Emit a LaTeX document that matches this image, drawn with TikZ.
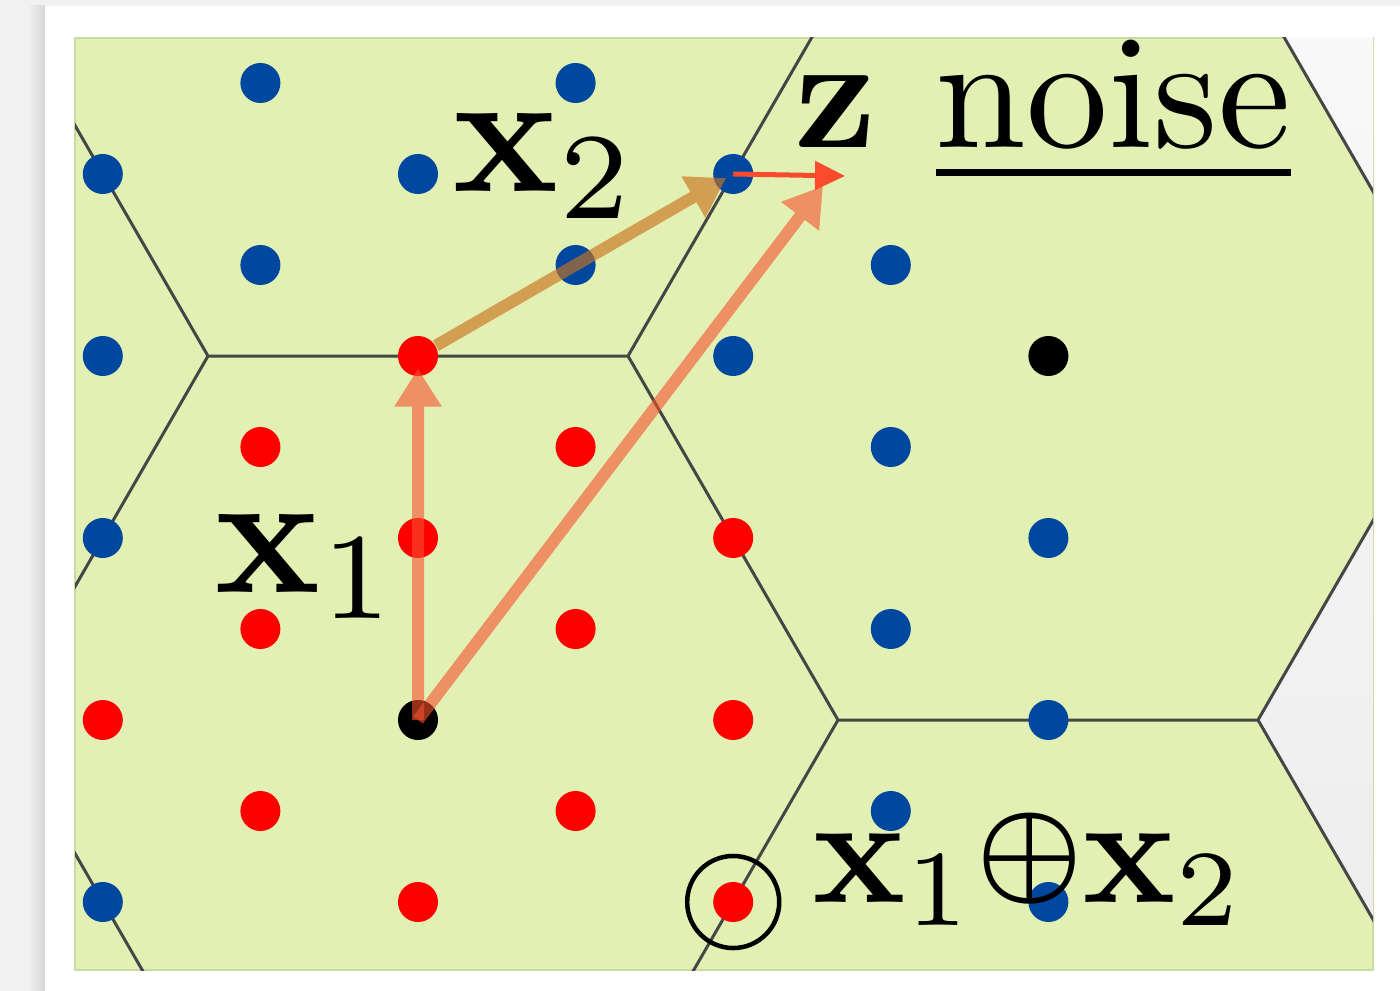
\documentclass[tikz,border=0pt]{standalone}
\usepackage{amsmath,amssymb}
\usepackage{graphicx}
\usetikzlibrary{arrows.meta}

\definecolor{leaf}{RGB}{226,240,180}
\definecolor{leafedge}{RGB}{200,218,160}
\definecolor{dotblue}{RGB}{0,71,160}
\definecolor{dotred}{RGB}{255,0,0}
\definecolor{salmon}{RGB}{245,80,45}
\definecolor{arrtan}{RGB}{200,115,30}
\definecolor{zred}{RGB}{250,75,45}
\definecolor{hexline}{RGB}{70,70,70}

\begin{document}
\begin{tikzpicture}[
    x=0.01cm, y=-0.01cm,
    dot/.style={circle, inner sep=0pt, minimum size=0.4cm},
    hexedge/.style={hexline, line width=0.03cm, line join=round},
    arr/.style={-{Triangle[length=0.38cm, width=0.45cm]}, line width=0.12cm},
    lbl/.style={inner sep=0pt, anchor=base west}
]
    % --- slide background ---
    \fill[gray!11] (0,0) rectangle (1400,991);
    \shade[left color=gray!11, right color=gray!32] (28,6) rectangle (45,991);
    \fill[white] (45,6) rectangle (1400,991);

    % --- lattice area ---
    \draw[fill=leaf, draw=leafedge, line width=0.015cm] (75,38) rectangle (1373,970);
    \begin{scope}
        \clip (75,38) rectangle (1373,970);
        \clip (1258,-8) -- (1468,356) -- (1258,720) -- (1468,1084) -- (1600,1084) -- (1600,-8) -- cycle;
        \shade[top color=gray!5, bottom color=gray!14] (1250,38) rectangle (1373,970);
    \end{scope}
    \begin{scope}
        \clip (75,38) rectangle (1373,970);
        \draw[hexedge] (-2,-8) -- (208,356) -- (628,356) -- (838,-8);
        \draw[hexedge] (208,356) -- (-2,720) -- (208,1084);
        \draw[hexedge] (628,356) -- (838,720) -- (628,1084);
        \draw[hexedge] (838,720) -- (1258,720) -- (1468,356);
        \draw[hexedge] (1258,720) -- (1468,1084);
        \draw[hexedge] (1258,-8) -- (1468,356);
    \end{scope}

    % --- lattice points (column/row) ---
    \foreach \c/\r/\col in {0/1/dotblue, 0/3/dotblue, 0/5/dotblue, 0/7/dotred, 0/9/dotblue,
                            1/0/dotblue, 1/2/dotblue, 1/4/dotred, 1/6/dotred, 1/8/dotred,
                            2/1/dotblue, 2/3/dotred, 2/5/dotred, 2/7/black, 2/9/dotred,
                            3/0/dotblue, 3/2/dotblue, 3/4/dotred, 3/6/dotred, 3/8/dotred,
                            4/1/dotblue, 4/3/dotblue, 4/5/dotred, 4/7/dotred, 4/9/dotred,
                            5/2/dotblue, 5/4/dotblue, 5/6/dotblue, 5/8/dotblue,
                            6/3/black, 6/5/dotblue, 6/7/dotblue, 6/9/dotblue}
        \node[dot, fill=\col] (p\c\r) at ({102.8+157.6*\c},{83+91*\r}) {};

    \coordinate (z) at (845,176);
    \coordinate (zend) at (823,186);

    % --- vectors ---
    \begin{scope}[transparency group, opacity=0.6]
        \draw[arr, salmon, shorten >=-0.08cm] (p27.center) -- (p23);
    \end{scope}
    \begin{scope}[transparency group, opacity=0.65]
        \draw[arr, arrtan, shorten >=0.08cm] (p23) -- (p41.center);
    \end{scope}
    \begin{scope}[transparency group, opacity=0.6]
        \draw[arr, salmon] (p27.center) -- (zend);
    \end{scope}
    \draw[-{Triangle[length=0.3cm, width=0.28cm]}, zred, line width=0.05cm] (p41.center) -- (z);

    % --- decoded point ---
    \node[circle, draw, line width=0.045cm, minimum size=0.92cm, inner sep=0pt] (ring) at (p49) {};

    % --- labels ---
    \node[lbl] (lx2) at (452,192) {\scalebox{5}{$\mathbf{x}_2$}};
    \node[lbl] (lx1) at (214,592) {\scalebox{5}{$\mathbf{x}_1$}};
    \node[lbl] (lsum) at (812,902) {\scalebox{4.4}{$\mathbf{x}_1\mathord{\raisebox{0.9pt}{\scalebox{0.77}{$\boldsymbol{\oplus}$}}}\mathbf{x}_2$}};
    \node[lbl] (lz) at (794,148) {\scalebox{4.6}{$\mathbf{z}$}};
    \node[lbl] (lnoise) at (935,148) {\scalebox{4.65}{\underline{noise}}};
\end{tikzpicture}
\end{document}
